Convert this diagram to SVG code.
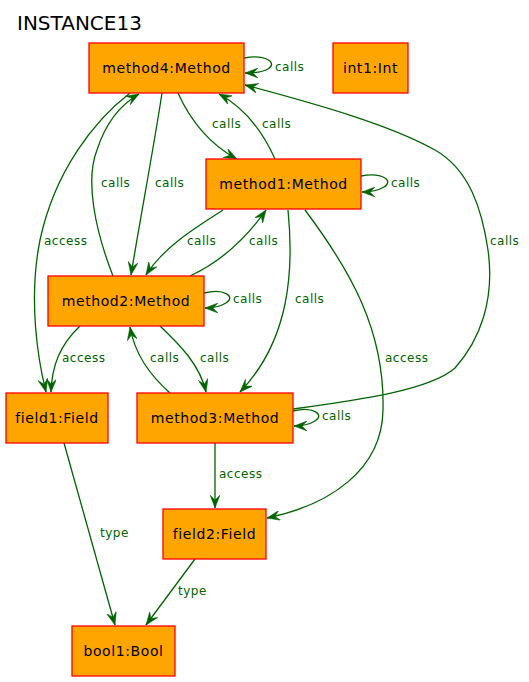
<svg xmlns="http://www.w3.org/2000/svg" width="529" height="682" viewBox="0 0 529 682">
<defs>
<marker id="vee" viewBox="0 0 13 10" refX="13" refY="5" markerWidth="13" markerHeight="10" orient="auto" markerUnits="userSpaceOnUse">
<path d="M0,0 L13,5 L0,10 L5,5 Z" fill="#006400" stroke="#006400" stroke-width="0.5"/>
</marker>
</defs>
<style>
.node rect{fill:#ffa500;stroke:#ff0000;stroke-width:1.3}
.node text{font-family:"DejaVu Sans",sans-serif;font-size:14px;fill:#000;text-anchor:middle;letter-spacing:0.6px}
.edge{fill:none;stroke:#006400;stroke-width:1.3;marker-end:url(#vee)}
.lbl{font-family:"DejaVu Sans",sans-serif;font-size:12px;fill:#006400;letter-spacing:0.5px}
.title{font-family:"DejaVu Sans",sans-serif;font-size:20px;fill:#000}
</style>
<rect width="529" height="682" fill="#fff"/>
<text class="title" x="17" y="30">INSTANCE13</text>
<g id="connectors">
<path class="edge" d="M244,58 C266,54 278,63 268,69 C263,72 256,73 245,73"/>
<path class="edge" d="M178,93 C190,120 210,145 237,159"/>
<path class="edge" d="M275,159 C262,130 245,108 219,94"/>
<path class="edge" d="M162,93 C155,140 140,220 131,275"/>
<path class="edge" d="M113,276 C95,230 85,180 97,150 C105,125 120,105 139,94"/>
<path class="edge" d="M130,93 C95,120 55,170 40,240 C28,300 38,360 46,392"/>
<path class="edge" d="M361,176 C383,172 394,181 384,187 C379,190 370,192 362,192"/>
<path class="edge" d="M223,210 C200,225 165,245 146,275"/>
<path class="edge" d="M190,276 C220,262 245,240 266,210"/>
<path class="edge" d="M288,210 C294,270 290,340 240,392"/>
<path class="edge" d="M305,210 C350,270 385,330 383,410 C382,470 330,505 267,518"/>
<path class="edge" d="M293,409 C360,400 430,390 455,368 C480,340 495,300 488,250 C482,210 470,170 435,150 C390,125 320,105 245,85"/>
<path class="edge" d="M204,293 C225,288 236,297 226,303 C221,306 213,308 205,308"/>
<path class="edge" d="M80,326 C60,345 52,365 51,392"/>
<path class="edge" d="M170,393 C150,375 135,355 130,327"/>
<path class="edge" d="M160,326 C180,345 200,365 206,392"/>
<path class="edge" d="M293,411 C314,406 325,415 315,421 C310,424 302,426 294,426"/>
<path class="edge" d="M215,443 L215,508"/>
<path class="edge" d="M64,443 L115,625"/>
<path class="edge" d="M195,559 L146,625"/>
<text class="lbl" x="275" y="71">calls</text>
<text class="lbl" x="212" y="128">calls</text>
<text class="lbl" x="262" y="128">calls</text>
<text class="lbl" x="101" y="187">calls</text>
<text class="lbl" x="155" y="187">calls</text>
<text class="lbl" x="44" y="245">access</text>
<text class="lbl" x="187" y="245">calls</text>
<text class="lbl" x="249" y="245">calls</text>
<text class="lbl" x="391" y="187">calls</text>
<text class="lbl" x="233" y="303">calls</text>
<text class="lbl" x="295" y="303">calls</text>
<text class="lbl" x="490" y="245">calls</text>
<text class="lbl" x="62" y="362">access</text>
<text class="lbl" x="150" y="362">calls</text>
<text class="lbl" x="200" y="362">calls</text>
<text class="lbl" x="385" y="362">access</text>
<text class="lbl" x="322" y="420">calls</text>
<text class="lbl" x="219" y="478">access</text>
<text class="lbl" x="100" y="537">type</text>
<text class="lbl" x="178" y="595">type</text>
</g>
<g id="method4" class="node"><rect x="89" y="43" width="155" height="50"/><text x="166.5" y="73">method4:Method</text></g>
<g id="int1" class="node"><rect x="333" y="43" width="75" height="50"/><text x="370.5" y="73">int1:Int</text></g>
<g id="method1" class="node"><rect x="206" y="159" width="155" height="50"/><text x="283.5" y="189">method1:Method</text></g>
<g id="method2" class="node"><rect x="48" y="276" width="156" height="50"/><text x="126" y="306">method2:Method</text></g>
<g id="field1" class="node"><rect x="6" y="393" width="102" height="50"/><text x="57" y="423">field1:Field</text></g>
<g id="method3" class="node"><rect x="137" y="393" width="156" height="50"/><text x="215" y="423">method3:Method</text></g>
<g id="field2" class="node"><rect x="163" y="509" width="103" height="50"/><text x="214.5" y="539">field2:Field</text></g>
<g id="bool1" class="node"><rect x="72" y="626" width="103" height="50"/><text x="123.5" y="656">bool1:Bool</text></g>
</svg>
